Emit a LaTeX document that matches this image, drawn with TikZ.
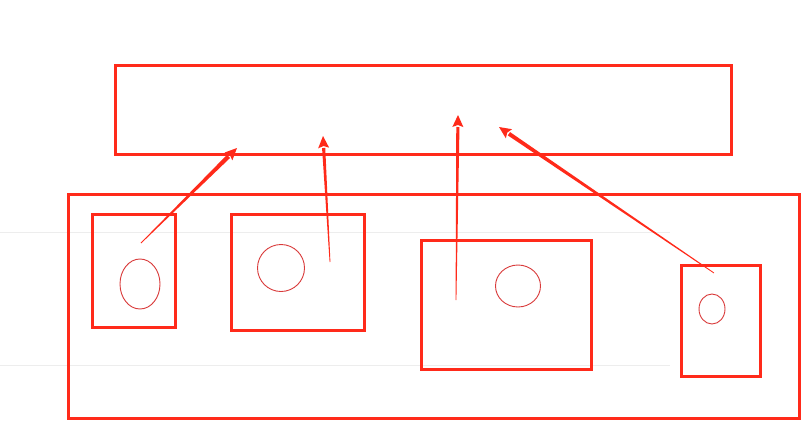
\documentclass[tikz,border=0pt]{standalone}
\usetikzlibrary{arrows.meta,calc,shapes.geometric}
\definecolor{boxred}{HTML}{FF2A1A}
\definecolor{ellred}{HTML}{D93A3A}
\definecolor{guide}{HTML}{EDEDED}
\tikzset{
  frame/.style={draw=boxred,line width=3pt},
  blob/.style={draw=ellred,line width=0.9pt},
  guideline/.style={draw=guide,line width=1pt}
}
\newcommand{\taperarrow}[3]{%
  \coordinate (hb) at ($(#2)!12pt!(#1)$);
  \fill[boxred] ($(#1)!0.4pt!90:(#2)$) -- ($(hb)!#3!-90:(#1)$) -- ($(hb)!#3!90:(#1)$) -- ($(#1)!0.4pt!-90:(#2)$) -- cycle;
  \fill[boxred] (#2) -- ($(hb)!5.5pt!-90:(#1)$) -- ($(hb)!2pt!(#2)$) -- ($(hb)!5.5pt!90:(#1)$) -- cycle;}
\begin{document}
\begin{tikzpicture}[x=1pt,y=-1pt]
\useasboundingbox (0,0) rectangle (812,440);
\fill[white] (0,0) rectangle (812,440);
% faint guide lines
\draw[guideline] (0,232) -- (670,232);
\draw[guideline] (0,365) -- (670,365);
% boxes
\node[frame,inner sep=0pt,minimum width=616pt,minimum height=89pt] (top) at (423,109.5) {};
\node[frame,inner sep=0pt,minimum width=731pt,minimum height=224pt] (outer) at (433.5,306) {};
\node[frame,inner sep=0pt,minimum width=83pt,minimum height=113pt] (b1) at (133.5,270.5) {};
\node[frame,inner sep=0pt,minimum width=133pt,minimum height=116pt] (b2) at (297.5,272) {};
\node[frame,inner sep=0pt,minimum width=170pt,minimum height=129pt] (b3) at (506,304.5) {};
\node[frame,inner sep=0pt,minimum width=79pt,minimum height=111pt] (b4) at (720.5,320.5) {};
% ellipses
\node[blob,ellipse,inner sep=0pt,minimum width=40pt,minimum height=50pt] (e1) at (140,284) {};
\node[blob,ellipse,inner sep=0pt,minimum width=47pt,minimum height=47pt] (e2) at (281,268) {};
\node[blob,ellipse,inner sep=0pt,minimum width=45pt,minimum height=42pt] (e3) at (518,286) {};
\node[blob,ellipse,inner sep=0pt,minimum width=26pt,minimum height=30pt] (e4) at (712,309) {};
% arrow endpoints
\coordinate (s1) at (141,243); \coordinate (t1) at (237,148);
\coordinate (s2) at (330,262); \coordinate (t2) at (323,136);
\coordinate (s3) at (456,300); \coordinate (t3) at (458,115);
\coordinate (s4) at (714,273); \coordinate (t4) at (499,127);
\taperarrow{s1}{t1}{2.2pt}
\taperarrow{s2}{t2}{1.6pt}
\taperarrow{s3}{t3}{1.6pt}
\taperarrow{s4}{t4}{2pt}
\end{tikzpicture}
\end{document}
